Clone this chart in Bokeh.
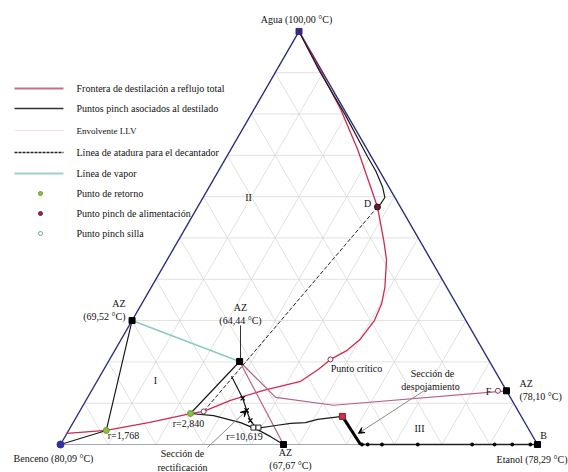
import numpy as np
from bokeh.plotting import figure
from bokeh.models import Range1d, Arrow, VeeHead
from bokeh.core.properties import value
from bokeh.embed import file_html
from bokeh.resources import INLINE

# Compositions are given as (x_etanol, x_agua); benzene is the remainder.
# Liquid-liquid envelope (binodal) from the benzene side to pure water
binodal_e = [0.000, 0.079, 0.158, 0.235, 0.260, 0.303, 0.360, 0.427, 0.450, 0.463,
             0.487, 0.501, 0.508, 0.503, 0.490, 0.460, 0.430, 0.377, 0.338, 0.266, 0.182, 0.094, 0.0]
binodal_w = [0.027, 0.034, 0.053, 0.075, 0.080, 0.107, 0.131, 0.153, 0.182, 0.206,
             0.228, 0.255, 0.300, 0.340, 0.380, 0.447, 0.495, 0.575, 0.624, 0.714, 0.811, 0.903, 1.0]

# Distillate pinch-point curve from water down to D
pinch_top_e = [0.0, 0.090, 0.198, 0.295, 0.330, 0.363, 0.381, 0.380, 0.377]
pinch_top_w = [1.0, 0.905, 0.798, 0.697, 0.662, 0.624, 0.598, 0.583, 0.575]

# Pinch branches for r = 1,768
r1_e = [0.0, 0.079, 0.0]
r1_w = [0.0, 0.034, 0.300]
# Pinch branches for r = 2,840
r2_line_e = [0.235, 0.275]
r2_line_w = [0.075, 0.201]
r2_curve_e = [0.235, 0.286, 0.351, 0.395, 0.431, 0.4675]
r2_curve_w = [0.075, 0.070, 0.053, 0.036, 0.019, 0.0]
# Rectifying profile for r = 10,619
r3_e = [0.276, 0.326, 0.349, 0.369, 0.3915]
r3_w = [0.165, 0.112, 0.0825, 0.058, 0.039]
r3_ticks_e = [0.326, 0.349, 0.369]
r3_ticks_w = [0.112, 0.0825, 0.058]
r3_sq_e = [0.384, 0.3945]
r3_sq_w = [0.041, 0.041]
# Pinch curve towards the feed pinch
feed_e = [0.3915, 0.428, 0.457, 0.487, 0.5085, 0.557]
feed_w = [0.039, 0.046, 0.051, 0.053, 0.061, 0.068]
# Stripping section
strip_e = [0.557, 0.629]
strip_w = [0.068, 0.0]
base_prof_e = [0.629, 0.632, 0.644, 0.674, 0.749, 0.863, 0.910, 0.947, 0.985, 1.0]
base_prof_w = [0.0] * 10
base_dots_e = [0.632, 0.644, 0.674, 0.749, 0.863, 0.910, 0.947, 0.985]

# Total-reflux distillation boundaries
bound1_e = [0.275, 0.394, 0.525, 0.870]
bound1_w = [0.201, 0.114, 0.095, 0.130]
bound2_e = [0.275, 0.4675]
bound2_w = [0.201, 0.0]
# Vapour line and decanter tie line
vapor_e = [0.0, 0.275]
vapor_w = [0.300, 0.201]
tie_e = [0.377, 0.260]
tie_w = [0.575, 0.080]

# Azeotropes and singular points
az_e = [0.0, 0.275, 0.4675, 0.870, 1.0]
az_w = [0.300, 0.201, 0.0, 0.130, 0.0]
ret_e = [0.079, 0.235]
ret_w = [0.034, 0.075]
feedpinch_e = [0.557]
feedpinch_w = [0.068]
saddle_e = [0.260, 0.463, 0.852]
saddle_w = [0.080, 0.206, 0.130]
d_e = [0.377]
d_w = [0.575]

S3 = np.sqrt(3) / 2


def cart(xe, xw):
    xe = np.asarray(xe, float)
    xw = np.asarray(xw, float)
    return xe + 0.5 * xw, S3 * xw


SC = 477.0


def scr(px, py):
    # screen pixel -> data coordinates (for text placement)
    return (px - 60) / SC, (444 - py) / SC


W, H = 568, 472
p = figure(width=W, height=H, output_backend="svg", toolbar_location=None,
           x_range=Range1d(-60 / SC, (W - 60) / SC), y_range=Range1d(-(H - 444) / SC, 444 / SC),
           min_border=0, min_border_left=0, min_border_right=0, min_border_top=0,
           min_border_bottom=0)
p.axis.visible = False
p.xgrid.visible = False
p.ygrid.visible = False
p.outline_line_color = None
p.background_fill_color = "white"
p.border_fill_color = "white"

FONT = value("'Liberation Serif'")

# ternary grid
for k in range(1, 10):
    t = k / 10
    for e, w in (([0, 1 - t], [t, t]), ([t, t], [0, 1 - t]), ([0, 1 - t], [1 - t, 0])):
        x, y = cart(e, w)
        p.line(x, y, line_color="#d9d9d9", line_width=0.8)

# triangle edges
x, y = cart([0, 0, 1], [0, 1, 0])
p.line(x, y, line_color="#2e2e7e", line_width=1.4)
x, y = cart([0, 1], [0, 0])
p.line(x, y, line_color="#a4a4c0", line_width=1.0)

# curves
x, y = cart(binodal_e, binodal_w)
p.line(x, y, line_color="#d02a50", line_width=1.3)
for e, w in ((bound1_e, bound1_w), (bound2_e, bound2_w)):
    x, y = cart(e, w)
    p.line(x, y, line_color="#b8608c", line_width=1.2)
x, y = cart(vapor_e, vapor_w)
p.line(x, y, line_color="#8ccac2", line_width=1.6)
x, y = cart(tie_e, tie_w)
p.line(x, y, line_color="#222222", line_width=1.0, line_dash="4 2")
for e, w in ((pinch_top_e, pinch_top_w), (r1_e, r1_w), (r2_line_e, r2_line_w),
             (r2_curve_e, r2_curve_w), (r3_e, r3_w), (feed_e, feed_w)):
    x, y = cart(e, w)
    p.line(x, y, line_color="#1a1a1a", line_width=1.2)
x, y = cart(strip_e, strip_w)
p.line(x, y, line_color="#000000", line_width=3)
x, y = cart(base_prof_e, base_prof_w)
p.line(x, y, line_color="#222222", line_width=1.6)
x, y = cart(base_dots_e, [0.0] * len(base_dots_e))
p.scatter(x, y, size=3, marker="circle", color="#000000")

# markers
x, y = cart(r3_ticks_e, r3_ticks_w)
p.scatter(x, y, size=6, marker="x", line_color="#000000", line_width=1.2)
x, y = cart(r3_sq_e, r3_sq_w)
p.scatter(x, y, size=5, marker="square", fill_color="white", line_color="#222222")
x, y = cart(az_e, az_w)
p.scatter(x, y, size=6, marker="square", color="#000000")
x, y = cart([0.0], [1.0])
p.scatter(x, y, size=6, marker="square", color="#3a2a7a")
x, y = cart([0.0], [0.0])
p.scatter(x, y, size=7, marker="circle", color="#3030a0")
x, y = cart(ret_e, ret_w)
p.scatter(x, y, size=6, marker="circle", fill_color="#8cc040", line_color="#6a9a30")
x, y = cart(feedpinch_e, feedpinch_w)
p.scatter(x, y, size=6, marker="square", fill_color="#d03040", line_color="#802030")
x, y = cart(saddle_e, saddle_w)
p.scatter(x, y, size=5, marker="circle", fill_color="white", line_color="#8a3050", line_width=1)
x, y = cart(d_e, d_w)
p.scatter(x, y, size=6, marker="circle", fill_color="#602030", line_color="#301018")

# leader from the ternary azeotrope to its label
xs, ys = scr(240, 325)
x, y = cart([0.275], [0.201])
p.line([xs, xs], [ys, y[0]], line_color="#000000", line_width=0.8)

# section arrows
xs, ys = scr(207, 447)
x, y = cart([0.349], [0.0825])
p.add_layout(Arrow(x_start=xs, y_start=ys, x_end=x[0], y_end=y[0], line_color="#8a8a8a",
                   line_width=1, end=VeeHead(size=6, fill_color="black", line_color="black")))
xs, ys = scr(427, 388)
x, y = cart([0.611], [0.027])
p.add_layout(Arrow(x_start=xs, y_start=ys, x_end=x[0], y_end=y[0], line_color="#8a8a8a",
                   line_width=1, end=VeeHead(size=6, fill_color="black", line_color="black")))

# text labels: (text, px, py, align)
labels = [
    ("Agua (100,00 °C)", 296, 19, "center"),
    ("AZ", 125, 303, "right"),
    ("(69,52 °C)", 125, 316, "right"),
    ("AZ", 240, 307, "center"),
    ("(64,44 °C)", 240, 320, "center"),
    ("AZ", 519, 383, "left"),
    ("(78,10 °C)", 519, 396, "left"),
    ("AZ", 285, 452, "center"),
    ("(67,67 °C)", 290, 465, "center"),
    ("Benceno (80,09 °C)", 53, 458, "center"),
    ("Etanol (78,29 °C)", 567, 459, "right"),
    ("B", 543, 435, "center"),
    ("D", 367, 203, "center"),
    ("F", 488, 391, "center"),
    ("I", 155, 380, "center"),
    ("II", 248, 197, "center"),
    ("III", 419, 428, "center"),
    ("r=1,768", 123, 435, "center"),
    ("r=2,840", 188, 423, "center"),
    ("r=10,619", 244, 436, "center"),
    ("Punto crítico", 356, 368, "center"),
    ("Sección de", 432, 373, "center"),
    ("despojamiento", 430, 386, "center"),
    ("Sección de", 182, 453, "center"),
    ("rectificación", 182, 467, "center"),
]
for t, lx, ly, al in labels:
    xx, yy = scr(lx, ly)
    p.text([xx], [yy], text=[t], text_font=FONT, text_font_size="10px",
           text_align=al, text_baseline="middle", text_color="#111111")

# legend
leg_lines = [
    ("Frontera de destilación a reflujo total", 88, "#c07090", 2.0, "solid"),
    ("Puntos pinch asociados al destilado", 108, "#303040", 1.6, "solid"),
    ("Envolvente LLV", 130, "#f0dde3", 1.0, "solid"),
    ("Línea de atadura para el decantador", 152, "#222222", 1.4, "3 1"),
    ("Línea de vapor", 173, "#a0d2ca", 2.0, "solid"),
]
for t, ly, col, lw, dash in leg_lines:
    x0, y0 = scr(14, ly)
    x1, _ = scr(63, ly)
    p.line([x0, x1], [y0, y0], line_color=col, line_width=lw, line_dash=dash)
    xx, yy = scr(76, ly)
    p.text([xx], [yy], text=[t], text_font=FONT,
           text_font_size="9px" if t == "Envolvente LLV" else "10px",
           text_align="left", text_baseline="middle", text_color="#111111")

leg_pts = [
    ("Punto de retorno", 193, "#8cc040", "#6a9a30"),
    ("Punto pinch de alimentación", 213, "#a02040", "#702030"),
    ("Punto pinch silla", 233, "white", "#70a0a0"),
]
for t, ly, fc, lc in leg_pts:
    xx, yy = scr(40, ly)
    p.scatter([xx], [yy], size=4, marker="circle", fill_color=fc, line_color=lc)
    xx, yy = scr(76, ly)
    p.text([xx], [yy], text=[t], text_font=FONT, text_font_size="10px",
           text_align="left", text_baseline="middle", text_color="#111111")

open("out.html", "w").write(file_html(p, INLINE))
